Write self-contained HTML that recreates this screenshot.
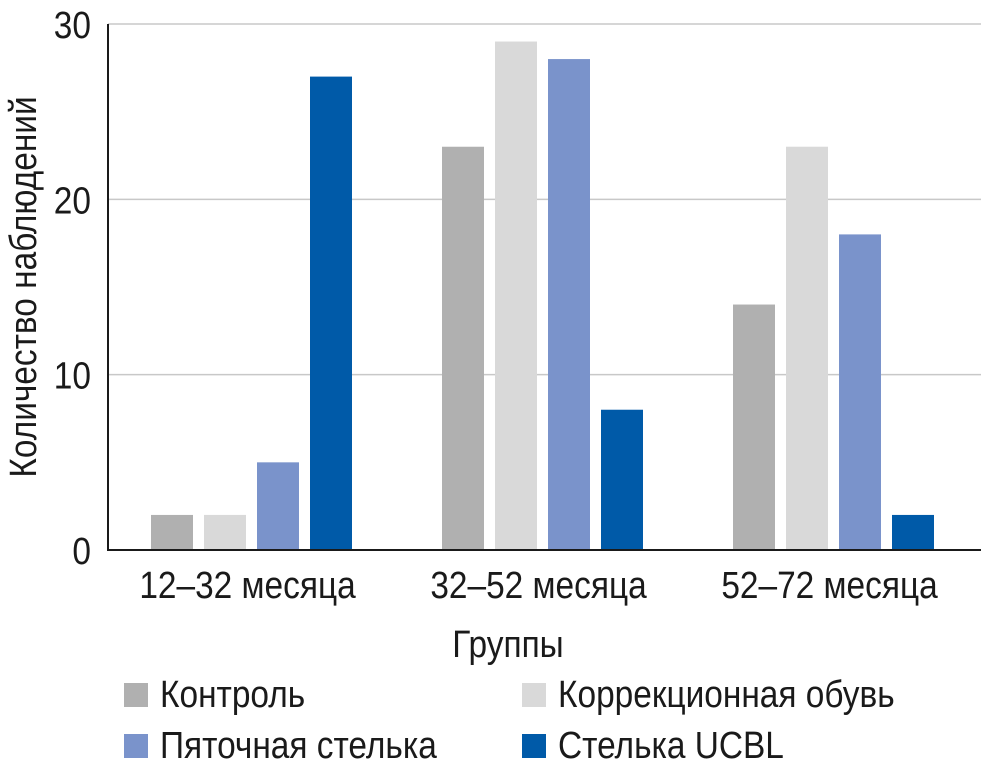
<!DOCTYPE html>
<html><head><meta charset="utf-8"><style>
body{margin:0;background:#fff;}
svg text{font-family:"Liberation Sans Narrow","Liberation Sans",sans-serif;fill:#1a1a1a;}
</style></head><body>
<svg width="981" height="771">
<g id="grid"></g><g id="bars"></g><g id="axes"></g><g id="legend"></g>
</svg>
<script>
const categories=["12–32 месяца","32–52 месяца","52–72 месяца"];
const seriesNames=["Контроль","Коррекционная обувь","Пяточная стелька","Стелька UCBL"];
const seriesColors=["#b0b0b0","#d9d9d9","#7a93cb","#005aa8"];
const control=[2,23,14];
const shoes=[2,29,23];
const heel=[5,28,18];
const ucbl=[27,8,2];
const yTicks=[0,10,20,30];
const series=[control,shoes,heel,ucbl];
const NS="http://www.w3.org/2000/svg";
const x0=108,x1=981,yTop=24,yBot=550,yMax=30;
const y=v=>yBot-(v/yMax)*(yBot-yTop);
const band=(x1-x0)/categories.length;
const bw=42,step=53;
const FS=38,SX=0.88;
function mk(t,a,p){const e=document.createElementNS(NS,t);for(const k in a)e.setAttribute(k,a[k]);p.appendChild(e);return e;}
function txt(p,x,yy,anchor,str,rot){
  const tr=`translate(${x},${yy})`+(rot?` rotate(${rot})`:'')+` scale(${SX},1)`;
  const t=mk('text',{x:0,y:0,'text-anchor':anchor,'font-size':FS,transform:tr},p);
  t.textContent=str;return t;
}
const grid=document.getElementById('grid'),bars=document.getElementById('bars'),axes=document.getElementById('axes'),leg=document.getElementById('legend');
yTicks.forEach(t=>{
  if(t>0){const l=mk('line',{x1:x0,x2:x1,y1:y(t),y2:y(t),stroke:'#c8c8c8','stroke-width':1.5},grid);
  
  }
  const tx=txt(axes,x0-17,y(t)+14,'end',String(t));
  
  
});
categories.forEach((c,i)=>{
  const cx=x0+band*(i+0.5)-2;
  series.forEach((s,j)=>{
    const bx=cx-(step*1.5)+(j*step)-bw/2;
    const r=mk('rect',{x:bx,y:y(s[i]),width:bw,height:yBot-y(s[i]),fill:seriesColors[j]},bars);
    
    
  });
  const tx=txt(axes,cx-4,598,'middle',c);
  
  
});
const ax=mk('path',{d:`M${x0} ${yTop}V${yBot}H${x1}`,fill:'none',stroke:'#1a1a1a','stroke-width':2},axes);


const xt=txt(axes,508,657,'middle',"Группы");


const yt=txt(axes,36,287,'middle',"Количество наблюдений",-90);


const lp=[[124,683],[522,683],[124,734],[522,734]];
seriesNames.forEach((n,j)=>{
  const g=mk('g',{},leg);
  
  
  mk('rect',{x:lp[j][0],y:lp[j][1],width:24,height:24,fill:seriesColors[j]},g);
  txt(g,lp[j][0]+36,lp[j][1]+24,'start',n);
});
</script>
</body></html>
